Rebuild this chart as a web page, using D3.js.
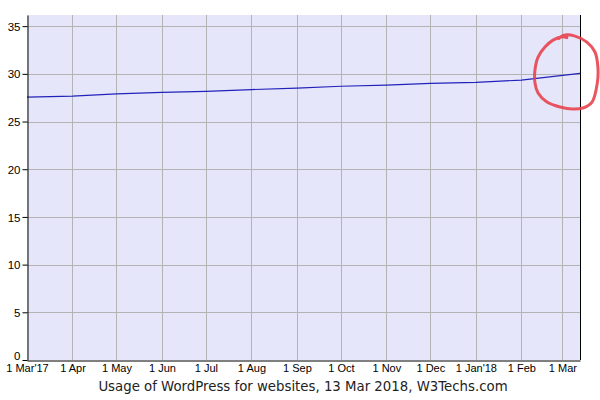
<!DOCTYPE html>
<html>
<head>
<meta charset="utf-8">
<script src="https://cdn.jsdelivr.net/npm/d3@7"></script>
<style>
  body { margin: 0; background: #fff; }
  svg { display: block; }
</style>
</head>
<body>
<div id="chart"></div>
<script>
// WordPress usage share (%), monthly readings plus the last day
var dates = ["2017-03-01", "2017-04-01", "2017-05-01", "2017-06-01", "2017-07-01",
             "2017-08-01", "2017-09-01", "2017-10-01", "2017-11-01", "2017-12-01",
             "2018-01-01", "2018-02-01", "2018-03-13"];
var usage = [27.55, 27.67, 27.9, 28.05, 28.17, 28.35, 28.5, 28.7, 28.82, 29.0, 29.1, 29.35, 30.05];

var yTicks = [0, 5, 10, 15, 20, 25, 30, 35];
var monthTicks = ["2017-03-01", "2017-04-01", "2017-05-01", "2017-06-01", "2017-07-01",
                  "2017-08-01", "2017-09-01", "2017-10-01", "2017-11-01", "2017-12-01",
                  "2018-01-01", "2018-02-01", "2018-03-01"];
var monthLabels = ["1 Mar'17", "1 Apr", "1 May", "1 Jun", "1 Jul", "1 Aug", "1 Sep",
                   "1 Oct", "1 Nov", "1 Dec", "1 Jan'18", "1 Feb", "1 Mar"];

// hand drawn red ring, in days from 1 Mar 2018 and usage values
var ringDays = [-2.6, 1, 8.6, 16.7, 22.2, 24.2, 23.8, 20.2, 14, 7.2, -1.6, -10.5, -16.6,
                -18.7, -18.7, -16.6, -11.9, -6.4, 0, 3];
var ringVals = [33.7, 34.05, 33.96, 33.33, 32.29, 30.71, 29.04, 27.04, 26.42, 26.31, 26.52,
                27.04, 27.99, 29.04, 30.4, 31.76, 32.81, 33.54, 33.9, 33.8];

var parse = d3.timeParse("%Y-%m-%d");
var width = 600, height = 400;
var plotL = 27, plotR = 580, plotT = 15, plotB = 360;

var svg = d3.select("#chart").append("svg")
    .attr("width", width)
    .attr("height", height);

var x = d3.scaleTime()
    .domain([parse("2017-03-01"), parse("2018-03-13")])
    .range([plotL, plotR]);

var y = d3.scaleLinear()
    .domain([0, 36.17])
    .range([plotB, plotT]);

// plot background
svg.append("rect")
    .attr("x", plotL)
    .attr("y", plotT)
    .attr("width", plotR - plotL)
    .attr("height", plotB - plotT)
    .attr("fill", "#e6e6fa");

// horizontal grid
svg.selectAll(".hgrid")
    .data(yTicks.slice(1))
    .enter().append("line")
    .attr("class", "hgrid")
    .attr("x1", plotL)
    .attr("x2", plotR)
    .attr("y1", function (d) { return Math.round(y(d)) + 0.5; })
    .attr("y2", function (d) { return Math.round(y(d)) + 0.5; })
    .attr("stroke", "#b4b4b4");

// vertical grid
svg.selectAll(".vgrid")
    .data(monthTicks.slice(1))
    .enter().append("line")
    .attr("class", "vgrid")
    .attr("x1", function (d) { return Math.round(x(parse(d))) + 0.5; })
    .attr("x2", function (d) { return Math.round(x(parse(d))) + 0.5; })
    .attr("y1", plotT)
    .attr("y2", plotB)
    .attr("stroke", "#b4b4b4");

// usage line
var line = d3.line()
    .x(function (d, i) { return x(parse(dates[i])); })
    .y(function (d) { return y(d); });

svg.append("path")
    .datum(usage)
    .attr("d", line)
    .attr("fill", "none")
    .attr("stroke", "#2222bb")
    .attr("stroke-width", 1.2);

// left axis
var yAxis = d3.axisLeft(y)
    .tickValues(yTicks)
    .tickSize(5)
    .tickSizeOuter(0);

var gy = svg.append("g")
    .attr("transform", "translate(" + (plotL + 0.5) + ",0)")
    .call(yAxis);
gy.select(".domain").attr("stroke", "#000");
gy.selectAll(".tick line").attr("stroke", "#000");
gy.selectAll(".tick text")
    .attr("fill", "#000")
    .attr("x", -7)
    .attr("dy", "0.36em")
    .style("font-family", "Liberation Sans, Arial, sans-serif")
    .style("font-size", "11.5px");
gy.select(".tick text").attr("dy", "-0.05em");

// bottom axis
var xAxis = d3.axisBottom(x)
    .tickValues(monthTicks.map(parse))
    .tickFormat(function (d, i) { return monthLabels[i]; })
    .tickSize(0)
    .tickSizeOuter(0);

var gx = svg.append("g")
    .attr("transform", "translate(0," + (plotB + 0.5) + ")")
    .call(xAxis);
gx.select(".domain").attr("stroke", "#000");
gx.selectAll(".tick text")
    .attr("fill", "#000")
    .attr("y", 4)
    .style("font-family", "Liberation Sans, Arial, sans-serif")
    .style("font-size", "11px");

// right border
svg.append("line")
    .attr("x1", plotR + 0.5)
    .attr("x2", plotR + 0.5)
    .attr("y1", plotT)
    .attr("y2", plotB)
    .attr("stroke", "#000");

// caption
svg.append("text")
    .attr("x", 303)
    .attr("y", 391)
    .attr("text-anchor", "middle")
    .style("font-family", "DejaVu Sans, Verdana, sans-serif")
    .style("font-size", "13.3px")
    .attr("fill", "#222")
    .text("Usage of WordPress for websites, 13 Mar 2018, W3Techs.com");

// red ring annotation
var base = parse("2018-03-01");
var ring = d3.line()
    .x(function (d, i) { return x(new Date(base.getTime() + ringDays[i] * 864e5)); })
    .y(function (d) { return y(d); })
    .curve(d3.curveCatmullRom);

svg.append("path")
    .datum(ringVals)
    .attr("d", ring)
    .attr("fill", "none")
    .attr("stroke", "#e8424f")
    .attr("stroke-width", 3)
    .attr("stroke-linecap", "round")
    .attr("opacity", 0.9);
</script>
</body>
</html>
